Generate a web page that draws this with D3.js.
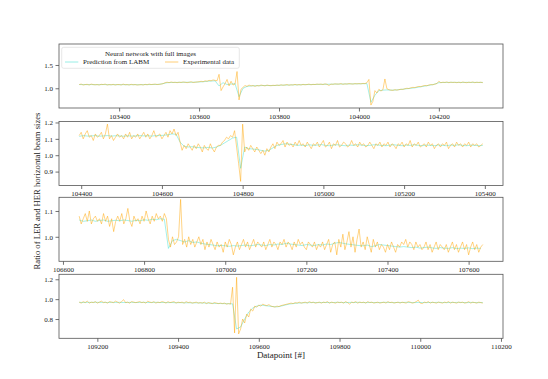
<!DOCTYPE html>
<html>
<head>
<meta charset="utf-8">
<script src="https://cdn.jsdelivr.net/npm/d3@7"></script>
<style>
  body { margin: 0; background: #fff; }
  svg { display: block; font-family: 'Liberation Serif', 'DejaVu Serif', serif; }
</style>
</head>
<body>
<div id="chart"></div>
<script>
// Data
const seriesNames = ['Prediction from LABM', 'Experimental data']
const legendTitle = 'Neural network with full images'

// first datapoint of each block, experimental sampled every 5, prediction every 10
const blockStarts = [103300, 104395, 106640, 109155]
const expStep = 5
const predStep = 10

const exp1 = [
  1.08,1.09,1.07,1.08,1.085,1.07,1.09,1.08,1.075,1.08,
  1.07,1.085,1.08,1.09,1.07,1.08,1.075,1.085,1.07,1.08,
  1.08,1.07,1.09,1.075,1.08,1.07,1.085,1.075,1.08,1.07,
  1.075,1.08,1.07,1.085,1.075,1.09,1.08,1.085,1.09,1.08,
  1.085,1.09,1.10,1.12,1.13,1.12,1.135,1.125,1.13,1.12,
  1.13,1.125,1.135,1.13,1.12,1.13,1.14,1.125,1.13,1.135,
  1.14,1.15,1.14,1.16,1.15,1.17,1.16,1.18,1.17,1.16,
  1.30,0.95,1.03,1.10,1.19,1.05,1.15,1.07,1.09,1.36,
  0.75,0.98,1.02,1.06,1.04,1.07,1.05,1.06,1.04,1.06,
  1.05,1.07,1.06,1.05,1.07,1.06,1.055,1.065,1.06,1.07,
  1.06,1.075,1.065,1.07,1.08,1.065,1.075,1.07,1.085,1.07,
  1.08,1.07,1.085,1.075,1.08,1.09,1.075,1.085,1.08,1.09,
  1.085,1.09,1.08,1.095,1.085,1.06,1.09,1.085,1.095,1.09,
  1.09,1.10,1.085,1.095,1.09,1.10,1.095,1.09,1.10,1.095,
  1.10,1.095,1.105,1.10,1.12,1.19,0.64,0.72,0.95,0.90,
  0.98,0.94,0.97,1.20,0.99,0.97,0.96,0.955,0.97,0.96,
  0.97,0.98,0.975,0.99,1.0,0.995,1.01,1.02,1.015,1.03,
  1.04,1.035,1.05,1.06,1.055,1.07,1.08,1.075,1.09,1.10,
  1.15,1.12,1.13,1.125,1.135,1.12,1.13,1.125,1.13,1.12,
  1.13,1.12,1.135,1.125,1.12,1.13,1.125,1.135,1.12,1.13,1.125,1.13,1.12
]
const pred1 = [
  1.08,1.08,1.078,1.08,1.077,1.078,1.08,1.078,1.076,1.078,
  1.077,1.078,1.076,1.077,1.078,1.076,1.078,1.08,1.08,1.082,
  1.085,1.10,1.12,1.125,1.125,1.128,1.127,1.13,1.128,1.132,
  1.135,1.14,1.15,1.155,1.16,1.05,1.12,1.08,1.09,1.10,
  0.82,1.0,1.04,1.05,1.055,1.055,1.06,1.06,1.058,1.06,
  1.065,1.068,1.07,1.072,1.074,1.075,1.078,1.08,1.08,1.082,
  1.084,1.085,1.086,1.088,1.09,1.09,1.092,1.093,1.094,1.095,
  1.096,1.098,1.10,0.70,0.85,0.95,0.96,0.965,0.96,0.962,
  0.97,0.98,0.99,1.0,1.01,1.025,1.04,1.055,1.07,1.09,
  1.12,1.125,1.125,1.128,1.126,1.127,1.125,1.128,1.126,1.127,1.125,1.126
]

const exp2 = [
  1.12,1.14,1.10,1.13,1.15,1.11,1.12,1.09,1.13,1.11,
  1.12,1.14,1.10,1.13,1.19,1.10,1.12,1.09,1.11,1.13,
  1.11,1.12,1.10,1.13,1.11,1.14,1.10,1.12,1.11,1.13,
  1.10,1.12,1.14,1.11,1.13,1.10,1.12,1.15,1.11,1.12,
  1.13,1.10,1.12,1.14,1.11,1.15,1.13,1.16,1.12,1.14,
  1.08,1.03,1.06,1.04,1.07,1.05,1.03,1.06,1.04,1.07,
  1.05,1.02,1.06,1.04,1.03,1.07,1.04,1.02,1.05,1.06,
  1.06,1.08,1.09,1.11,1.10,1.12,1.11,1.15,1.05,0.95,
  0.84,1.19,1.02,1.05,1.03,1.06,1.04,1.02,1.05,1.03,
  1.01,1.03,1.00,1.04,1.02,1.05,1.07,1.04,1.08,1.06,
  1.07,1.09,1.05,1.08,1.06,1.07,1.05,1.08,1.06,1.09,
  1.06,1.07,1.05,1.08,1.06,1.04,1.07,1.06,1.08,1.05,
  1.07,1.09,1.05,1.06,1.08,1.04,1.07,1.06,1.09,1.05,
  1.06,1.08,1.07,1.05,1.06,1.09,1.06,1.07,1.05,1.08,
  1.06,1.07,1.05,1.06,1.08,1.06,1.04,1.07,1.06,1.08,
  1.05,1.07,1.06,1.08,1.05,1.07,1.06,1.04,1.07,1.06,
  1.08,1.05,1.07,1.06,1.09,1.05,1.07,1.06,1.08,1.05,
  1.06,1.07,1.05,1.08,1.06,1.07,1.04,1.06,1.07,1.05,
  1.07,1.06,1.08,1.04,1.06,1.07,1.05,1.08,1.06,1.07,
  1.05,1.07,1.06,1.08,1.05,1.07,1.06,1.07,1.05,1.06,1.07
]
const pred2 = [
  1.115,1.12,1.117,1.118,1.12,1.116,1.118,1.12,1.117,1.119,
  1.118,1.116,1.119,1.117,1.118,1.12,1.118,1.119,1.117,1.12,
  1.12,1.122,1.125,1.13,1.128,1.08,1.055,1.05,1.052,1.048,
  1.046,1.045,1.048,1.044,1.05,1.06,1.075,1.09,1.105,1.11,
  0.92,1.05,1.04,1.038,1.035,1.03,1.025,1.03,1.045,1.06,
  1.065,1.07,1.068,1.065,1.06,1.062,1.058,1.064,1.06,1.062,
  1.065,1.06,1.058,1.062,1.064,1.06,1.058,1.062,1.06,1.064,
  1.062,1.058,1.06,1.064,1.062,1.06,1.058,1.062,1.064,1.06,
  1.058,1.062,1.06,1.064,1.06,1.058,1.062,1.06,1.058,1.062,
  1.06,1.058,1.062,1.06,1.064,1.06,1.058,1.062,1.06,1.058,1.06
]

const exp3 = [
  1.08,1.05,1.07,1.09,1.06,1.10,1.05,1.07,1.08,1.06,
  1.07,1.05,1.09,1.06,1.08,1.04,1.07,1.02,1.06,1.08,
  1.06,1.09,1.05,1.07,1.11,1.06,1.04,1.08,1.06,1.07,
  1.05,1.08,1.06,1.10,1.07,1.05,1.08,1.06,1.09,1.07,
  1.08,1.06,1.09,1.07,0.99,0.96,1.00,0.97,0.98,1.00,
  1.145,0.97,0.99,0.96,1.00,0.97,0.99,0.96,0.98,1.00,
  0.97,0.99,0.95,0.98,0.96,0.99,0.97,0.95,0.98,0.96,
  0.97,0.94,0.98,0.96,0.99,0.97,0.93,0.96,0.98,0.95,
  0.97,0.99,0.96,0.98,0.95,0.97,0.99,0.96,0.98,0.97,
  0.96,0.98,0.95,0.97,0.99,0.96,0.98,0.97,0.95,0.98,
  0.97,0.99,0.96,0.98,0.97,0.95,0.98,0.96,0.99,0.97,
  0.98,0.96,0.95,0.98,0.97,0.96,0.98,0.95,0.97,0.96,
  0.98,0.95,0.97,0.99,0.94,0.97,0.98,0.93,0.99,0.96,
  1.01,0.95,0.98,1.02,0.96,1.00,0.94,0.99,1.03,0.96,
  0.98,0.95,1.00,0.97,0.94,0.99,0.96,0.98,0.95,0.97,
  0.96,0.94,0.97,0.95,0.98,0.96,0.94,0.97,0.96,0.98,
  0.97,0.99,0.96,0.98,0.97,0.95,0.98,0.96,0.97,0.95,
  0.96,0.98,0.95,0.97,0.94,0.96,0.98,0.95,0.97,0.96,
  0.95,0.97,0.94,0.96,0.98,0.95,0.97,0.94,0.96,0.98,
  0.95,0.97,0.93,0.96,0.98,0.95,0.97,0.94,0.96,0.97
]
const pred3 = [
  1.065,1.06,1.062,1.065,1.06,1.063,1.065,1.06,1.062,1.064,
  1.062,1.065,1.063,1.06,1.064,1.062,1.066,1.064,1.068,1.066,
  1.07,1.068,0.955,0.985,0.99,0.985,0.98,0.985,0.978,0.98,
  0.975,0.972,0.97,0.968,0.965,0.967,0.965,0.963,0.966,0.964,
  0.966,0.968,0.965,0.967,0.97,0.968,0.966,0.97,0.968,0.972,
  0.97,0.975,0.972,0.97,0.968,0.966,0.97,0.968,0.966,0.97,
  0.968,0.972,0.97,0.975,0.978,0.975,0.972,0.97,0.968,0.966,
  0.965,0.968,0.962,0.965,0.97,0.968,0.966,0.964,0.962,0.96,
  0.962,0.96,0.958,0.96,0.956,0.958,0.96,0.957,0.955,0.958,
  0.956,0.955,0.958,0.954,0.956,0.955,0.957,0.954,0.956,0.955
]

const exp4 = [
  0.97,0.96,0.975,0.965,0.98,0.96,0.97,0.965,0.975,0.96,
  0.97,0.98,0.965,0.97,0.96,0.975,0.97,0.965,0.98,0.97,
  0.96,0.975,0.995,0.965,0.97,0.96,0.975,0.97,0.965,0.97,
  0.975,0.965,0.97,0.96,0.98,0.97,0.965,0.975,0.96,0.97,
  0.965,0.975,0.97,0.96,0.975,0.965,0.97,0.975,0.96,0.97,
  0.965,0.97,0.96,0.975,0.965,0.97,0.96,0.965,0.97,0.96,
  0.965,0.96,0.97,0.955,0.965,0.96,0.955,0.965,0.96,0.955,
  0.96,0.955,0.96,0.95,0.955,0.95,1.12,0.66,1.22,0.65,
  0.70,0.80,0.76,0.85,0.82,0.90,0.88,0.93,0.92,0.94,
  0.93,0.95,0.94,0.935,0.945,0.93,0.925,0.92,0.93,0.925,
  0.935,0.94,0.945,0.95,0.955,0.96,0.955,0.965,0.96,0.97,
  0.96,0.965,0.97,0.96,0.975,0.965,0.97,0.96,0.965,0.97,
  0.96,0.97,0.965,0.975,0.96,0.97,0.965,0.96,0.97,0.965,
  0.97,0.96,0.975,0.965,0.95,0.97,0.965,0.975,0.96,0.97,
  0.965,0.97,0.96,0.975,0.965,0.97,0.96,0.965,0.97,0.96,
  0.965,0.97,0.96,0.975,0.965,0.97,0.96,0.965,0.97,0.96,
  0.97,0.965,0.96,0.975,0.97,0.96,0.965,0.975,0.99,0.96,
  0.955,0.97,0.965,0.975,0.96,0.97,0.965,0.96,0.97,0.965,
  0.96,0.97,0.965,0.975,0.96,0.97,0.965,0.96,0.97,0.965,
  0.97,0.96,0.965,0.975,0.96,0.97,0.965,0.96,0.97,0.965,0.96
]
const pred4 = [
  0.968,0.966,0.968,0.967,0.969,0.967,0.968,0.966,0.968,0.967,
  0.968,0.966,0.967,0.968,0.966,0.967,0.968,0.966,0.967,0.968,
  0.966,0.967,0.965,0.966,0.964,0.965,0.963,0.964,0.962,0.963,
  0.962,0.961,0.96,0.958,0.957,0.956,0.955,0.954,0.953,0.70,
  0.72,0.80,0.87,0.91,0.93,0.94,0.935,0.93,0.925,0.922,
  0.93,0.94,0.95,0.955,0.96,0.962,0.964,0.965,0.966,0.965,
  0.966,0.967,0.965,0.966,0.968,0.966,0.965,0.967,0.966,0.968,
  0.966,0.965,0.967,0.966,0.965,0.967,0.968,0.966,0.965,0.967,
  0.966,0.968,0.966,0.965,0.967,0.966,0.965,0.967,0.966,0.968,
  0.966,0.965,0.967,0.966,0.968,0.966,0.965,0.967,0.966,0.965,0.966
]

const expBlocks = [exp1, exp2, exp3, exp4]
const predBlocks = [pred1, pred2, pred3, pred4]

const xTicks = [
  [103400, 103600, 103800, 104000, 104200],
  [104400, 104600, 104800, 105000, 105200, 105400],
  [106600, 106800, 107000, 107200, 107400, 107600],
  [109200, 109400, 109600, 109800, 110000, 110200]
]
const yTicks = [
  [1.0, 1.5],
  [0.9, 1.0, 1.1, 1.2],
  [1.0, 1.1],
  [0.8, 1.0, 1.2]
]
const yLimits = [[0.577, 1.95], [0.815, 1.206], [0.905, 1.153], [0.606, 1.25]]

// Dimensions
const w = 548
const h = 379
const left = 59
const right = 503
const tops = [44, 121.5, 197.3, 274.3]
const ph = 64

const predColor = 'turquoise'
const expColor = 'orange'

const svg = d3.select('#chart')
  .append('svg')
  .attr('width', w)
  .attr('height', h)

blockStarts.forEach((start, k) => {
  const expData = expBlocks[k].map((v, i) => ({ x: start + i * expStep, y: v }))
  const predData = predBlocks[k].map((v, i) => ({ x: start + i * predStep, y: v }))

  // matplotlib style 5% margin on x
  const x0 = d3.min(expData.concat(predData), d => d.x)
  const x1 = d3.max(expData.concat(predData), d => d.x)
  const pad = (x1 - x0) * 0.05

  const x = d3.scaleLinear().domain([x0 - pad, x1 + pad]).range([left, right])
  const y = d3.scaleLinear().domain(yLimits[k]).range([tops[k] + ph, tops[k]])

  const g = svg.append('g')

  const line = d3.line().x(d => x(d.x)).y(d => y(d.y))

  g.append('path')
    .datum(predData)
    .attr('fill', 'none')
    .attr('stroke', predColor)
    .attr('stroke-opacity', 0.6)
    .attr('stroke-width', 0.8)
    .attr('d', line)

  g.append('path')
    .datum(expData)
    .attr('fill', 'none')
    .attr('stroke', expColor)
    .attr('stroke-opacity', 0.6)
    .attr('stroke-width', 0.8)
    .attr('d', line)

  // axes
  const xAxis = g.append('g')
    .attr('transform', `translate(0,${tops[k] + ph})`)
    .call(d3.axisBottom(x).tickValues(xTicks[k]).tickFormat(d3.format('d')).tickSize(3.5).tickPadding(2.5))
  const yAxis = g.append('g')
    .attr('transform', `translate(${left},0)`)
    .call(d3.axisLeft(y).tickValues(yTicks[k]).tickFormat(d3.format('.1f')).tickSize(3.5).tickPadding(2.5))

  ;[xAxis, yAxis].forEach(a => {
    a.select('.domain').remove()
    a.selectAll('line').attr('stroke', '#333').attr('stroke-width', 0.7)
    a.selectAll('text').attr('font-size', '7px').attr('fill', '#222')
      .attr('font-family', "'Liberation Serif', serif")
  })

  g.append('rect')
    .attr('x', left)
    .attr('y', tops[k])
    .attr('width', right - left)
    .attr('height', ph)
    .attr('fill', 'none')
    .attr('stroke', '#555')
    .attr('stroke-width', 0.8)
})

// Legend
const lg = svg.append('g')
lg.append('rect')
  .attr('x', 61.7)
  .attr('y', 47.3)
  .attr('width', 177.6)
  .attr('height', 21)
  .attr('rx', 2)
  .attr('fill', 'white')
  .attr('fill-opacity', 0.8)
  .attr('stroke', '#ddd')
  .attr('stroke-width', 0.7)
lg.append('text')
  .attr('x', 150.5)
  .attr('y', 55.5)
  .attr('text-anchor', 'middle')
  .attr('font-size', '7px')
  .attr('fill', '#222')
  .text(legendTitle)

const entryX = [65, 165]
seriesNames.forEach((name, i) => {
  lg.append('line')
    .attr('x1', entryX[i])
    .attr('x2', entryX[i] + 13.3)
    .attr('y1', 62)
    .attr('y2', 62)
    .attr('stroke', i === 0 ? predColor : expColor)
    .attr('stroke-opacity', 0.6)
    .attr('stroke-width', 0.9)
  lg.append('text')
    .attr('x', entryX[i] + 18)
    .attr('y', 64.4)
    .attr('font-size', '7px')
    .attr('fill', '#222')
    .text(name)
})

// Axis labels
svg.append('text')
  .attr('x', 281)
  .attr('y', 358)
  .attr('text-anchor', 'middle')
  .attr('font-size', '9px')
  .attr('fill', '#222')
  .text('Datapoint [#]')

svg.append('text')
  .attr('transform', 'translate(40,191) rotate(-90)')
  .attr('text-anchor', 'middle')
  .attr('font-size', '8.6px')
  .attr('fill', '#222')
  .text('Ratio of LER and HER horizontal beam sizes')
</script>
</body>
</html>
